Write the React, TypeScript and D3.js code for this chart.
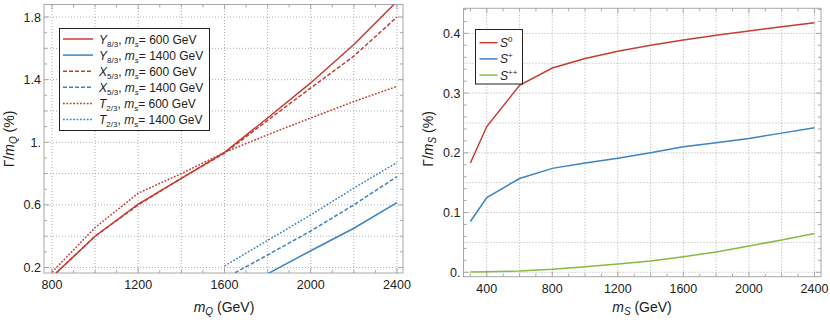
import * as d3 from 'd3'

// left panel: Gamma/mQ vs mQ
const mQ = [800, 1000, 1200, 1400, 1600, 1800, 2000, 2200, 2400]
const y83_600 = [0.14, 0.4, 0.605, 0.77, 0.935, 1.155, 1.379, 1.624, 1.9]
const x53_600 = [0.14, 0.4, 0.6, 0.77, 0.93, 1.14, 1.347, 1.55, 1.8]
const t23_600 = [0.17, 0.455, 0.675, 0.8, 0.935, 1.048, 1.155, 1.26, 1.357]
const mQHeavy = [1600, 1800, 2000, 2200, 2400]
const y83_1400 = [null, 0.16, 0.307, 0.451, 0.615]
const x53_1400 = [0.13, 0.28, 0.433, 0.6, 0.781]
const t23_1400 = [0.21, 0.373, 0.536, 0.707, 0.871]

// right panel: Gamma/mS vs mS
const mS = [300, 400, 600, 800, 1000, 1200, 1400, 1600, 1800, 2000, 2200, 2400]
const s0 = [0.183, 0.244, 0.313, 0.342, 0.358, 0.37, 0.38, 0.389, 0.397, 0.404, 0.411, 0.418]
const sPlus = [0.085, 0.125, 0.157, 0.174, 0.183, 0.191, 0.2, 0.21, 0.217, 0.224, 0.233, 0.242]
const sPlusPlus = [0.0005, 0.001, 0.002, 0.005, 0.0094, 0.014, 0.019, 0.026, 0.034, 0.044, 0.054, 0.065]

const leftXTicks = [800, 1200, 1600, 2000, 2400]
const leftYTicks = [0.2, 0.6, 1.0, 1.4, 1.8]
const leftYLabels = ['0.2', '0.6', '1.', '1.4', '1.8']
const rightXTicks = [400, 800, 1200, 1600, 2000, 2400]
const rightYTicks = [0, 0.1, 0.2, 0.3, 0.4]
const rightYLabels = ['0.', '0.1', '0.2', '0.3', '0.4']

const RED = '#c43d33'
const BLUE = '#3b84c4'
const GREEN = '#8ab942'
const FRAME = '#a8a8a8'
const GRID = '#9a9a9a'
const FONT = 'Liberation Sans, Arial, sans-serif'
const DASH = '4,2'
const DOT = '1.8,1.6'

type Pt = [number, number | null]

function zip(xs: number[], ys: (number | null)[]): Pt[] {
  return xs.map((x, i) => [x, ys[i]] as Pt)
}

interface PanelProps {
  id: string
  x: d3.ScaleLinear<number, number>
  y: d3.ScaleLinear<number, number>
  xGrid: number[]
  yGrid: number[]
  xMinor: number[]
  yMinor: number[]
  xTicks: number[]
  yTicks: number[]
  yLabels: string[]
}

function Panel({ id, x, y, xGrid, yGrid, xMinor, yMinor, xTicks, yTicks, yLabels }: PanelProps) {
  const [x0, x1] = x.range()
  const [y0, y1] = y.range()
  const isMajorX = (v: number) => xTicks.some(t => Math.abs(t - v) < 1e-6)
  const isMajorY = (v: number) => yTicks.some(t => Math.abs(t - v) < 1e-6)
  return (
    <g>
      <defs>
        <clipPath id={id}>
          <rect x={x0} y={y1} width={x1 - x0} height={y0 - y1} />
        </clipPath>
      </defs>
      {xGrid.map(v => (
        <line key={'gx' + v} x1={x(v)} x2={x(v)} y1={y0} y2={y1}
          stroke={GRID} strokeWidth={0.8} strokeDasharray="1,2" />
      ))}
      {yGrid.map(v => (
        <line key={'gy' + v} x1={x0} x2={x1} y1={y(v)} y2={y(v)}
          stroke={GRID} strokeWidth={0.8} strokeDasharray="1,2" />
      ))}
      {xMinor.map(v => {
        const l = isMajorX(v) ? 5 : 3
        return (
          <g key={'tx' + v}>
            <line x1={x(v)} x2={x(v)} y1={y0} y2={y0 - l} stroke={FRAME} />
            <line x1={x(v)} x2={x(v)} y1={y1} y2={y1 + l} stroke={FRAME} />
          </g>
        )
      })}
      {yMinor.map(v => {
        const l = isMajorY(v) ? 5 : 3
        return (
          <g key={'ty' + v}>
            <line x1={x0} x2={x0 + l} y1={y(v)} y2={y(v)} stroke={FRAME} />
            <line x1={x1} x2={x1 - l} y1={y(v)} y2={y(v)} stroke={FRAME} />
          </g>
        )
      })}
      <rect x={x0} y={y1} width={x1 - x0} height={y0 - y1} fill="none" stroke={FRAME} strokeWidth={1} />
      {xTicks.map(v => (
        <text key={'lx' + v} x={x(v)} y={y0 + 16} textAnchor="middle" fontSize={12.5} fill="#222">{v}</text>
      ))}
      {yTicks.map((v, i) => (
        <text key={'ly' + v} x={x0 - 3} y={y(v) + 4.5} textAnchor="end" fontSize={12.5} fill="#222">{yLabels[i]}</text>
      ))}
    </g>
  )
}

export default function App() {
  const xL = d3.scaleLinear().domain([763, 2428]).range([44, 403])
  const yL = d3.scaleLinear().domain([0.165, 1.88]).range([273, 4.5])
  const xR = d3.scaleLinear().domain([258, 2440]).range([463.5, 821])
  const yR = d3.scaleLinear().domain([-0.0074, 0.442]).range([276.7, 8.3])

  const lineL = d3.line<Pt>().defined(d => d[1] != null).x(d => xL(d[0])).y(d => yL(d[1] as number))
  const lineR = d3.line<Pt>().x(d => xR(d[0])).y(d => yR(d[1] as number))

  const leftSeries = [
    { d: zip(mQ, y83_600), c: RED, dash: undefined, sym: 'Y', sub: '8/3', ms: '600' },
    { d: zip(mQHeavy, y83_1400), c: BLUE, dash: undefined, sym: 'Y', sub: '8/3', ms: '1400' },
    { d: zip(mQ, x53_600), c: RED, dash: DASH, sym: 'X', sub: '5/3', ms: '600' },
    { d: zip(mQHeavy, x53_1400), c: BLUE, dash: DASH, sym: 'X', sub: '5/3', ms: '1400' },
    { d: zip(mQ, t23_600), c: RED, dash: DOT, sym: 'T', sub: '2/3', ms: '600' },
    { d: zip(mQHeavy, t23_1400), c: BLUE, dash: DOT, sym: 'T', sub: '2/3', ms: '1400' },
  ]
  const rightSeries = [
    { d: zip(mS, s0), c: RED, sup: '0' },
    { d: zip(mS, sPlus), c: BLUE, sup: '+' },
    { d: zip(mS, sPlusPlus), c: GREEN, sup: '++' },
  ]

  return (
    <svg width={830} height={322} style={{ position: 'absolute', left: 0, top: 0, fontFamily: FONT }}>
      <rect width={830} height={322} fill="white" />
      <Panel id="clipL" x={xL} y={yL}
        xGrid={d3.range(800, 2401, 200)} yGrid={d3.range(0.2, 1.81, 0.2)}
        xMinor={d3.range(800, 2401, 100)} yMinor={d3.range(0.2, 1.81, 0.1).map(v => +v.toFixed(2))}
        xTicks={leftXTicks} yTicks={leftYTicks} yLabels={leftYLabels} />
      <Panel id="clipR" x={xR} y={yR}
        xGrid={d3.range(400, 2401, 200)} yGrid={d3.range(0, 0.401, 0.05).map(v => +v.toFixed(2))}
        xMinor={d3.range(300, 2401, 100)} yMinor={d3.range(0, 0.441, 0.02).map(v => +v.toFixed(2))}
        xTicks={rightXTicks} yTicks={rightYTicks} yLabels={rightYLabels} />

      <g clipPath="url(#clipL)">
        {leftSeries.map((s, i) => (
          <path key={i} d={lineL(s.d) || ''} fill="none" stroke={s.c} strokeWidth={1.5} strokeDasharray={s.dash} />
        ))}
      </g>
      <g clipPath="url(#clipR)">
        {rightSeries.map((s, i) => (
          <path key={i} d={lineR(s.d) || ''} fill="none" stroke={s.c} strokeWidth={1.5} />
        ))}
      </g>

      {/* left legend */}
      <rect x={59.5} y={28.5} width={150} height={102} fill="white" stroke="#222" strokeWidth={1} />
      {leftSeries.map((s, i) => {
        const yy = 39 + i * 16.1
        return (
          <g key={'leg' + i}>
            <line x1={63} x2={93} y1={yy} y2={yy} stroke={s.c} strokeWidth={1.5} strokeDasharray={s.dash} />
            <text x={99} y={yy + 4.5} fontSize={12} fill="#222">
              <tspan fontStyle="italic">{s.sym}</tspan>
              <tspan fontSize={8} dy={3}>{s.sub}</tspan>
              <tspan dy={-3}>, </tspan>
              <tspan fontStyle="italic">m</tspan>
              <tspan fontStyle="italic" fontSize={8} dy={3}>s</tspan>
              <tspan dy={-3}>= {s.ms} GeV</tspan>
            </text>
          </g>
        )
      })}

      {/* right legend */}
      <rect x={475.5} y={29.5} width={47} height={54.5} fill="white" stroke="#222" strokeWidth={1} />
      {rightSeries.map((s, i) => {
        const yy = 42.7 + i * 16.2
        return (
          <g key={'legR' + i}>
            <line x1={479.5} x2={497.5} y1={yy} y2={yy} stroke={s.c} strokeWidth={1.5} />
            <text x={500} y={yy + 4.5} fontSize={12} fill="#222">
              <tspan fontStyle="italic">S</tspan>
              <tspan fontSize={8} dy={-5}>{s.sup}</tspan>
            </text>
          </g>
        )
      })}

      {/* axis titles */}
      <text x={224} y={312} textAnchor="middle" fontSize={14} fill="#222">
        <tspan fontStyle="italic">m</tspan>
        <tspan fontStyle="italic" fontSize={10} dy={3}>Q</tspan>
        <tspan dy={-3}> (GeV)</tspan>
      </text>
      <text x={642} y={312} textAnchor="middle" fontSize={14} fill="#222">
        <tspan fontStyle="italic">m</tspan>
        <tspan fontStyle="italic" fontSize={10} dy={3}>S</tspan>
        <tspan dy={-3}> (GeV)</tspan>
      </text>
      <text transform="translate(14,139) rotate(-90)" textAnchor="middle" fontSize={14} fill="#222">
        <tspan>Γ/</tspan>
        <tspan fontStyle="italic">m</tspan>
        <tspan fontStyle="italic" fontSize={10} dy={3}>Q</tspan>
        <tspan dy={-3}> (%)</tspan>
      </text>
      <text transform="translate(433,139) rotate(-90)" textAnchor="middle" fontSize={14} fill="#222">
        <tspan>Γ/</tspan>
        <tspan fontStyle="italic">m</tspan>
        <tspan fontStyle="italic" fontSize={10} dy={3}>S</tspan>
        <tspan dy={-3}> (%)</tspan>
      </text>
    </svg>
  )
}
